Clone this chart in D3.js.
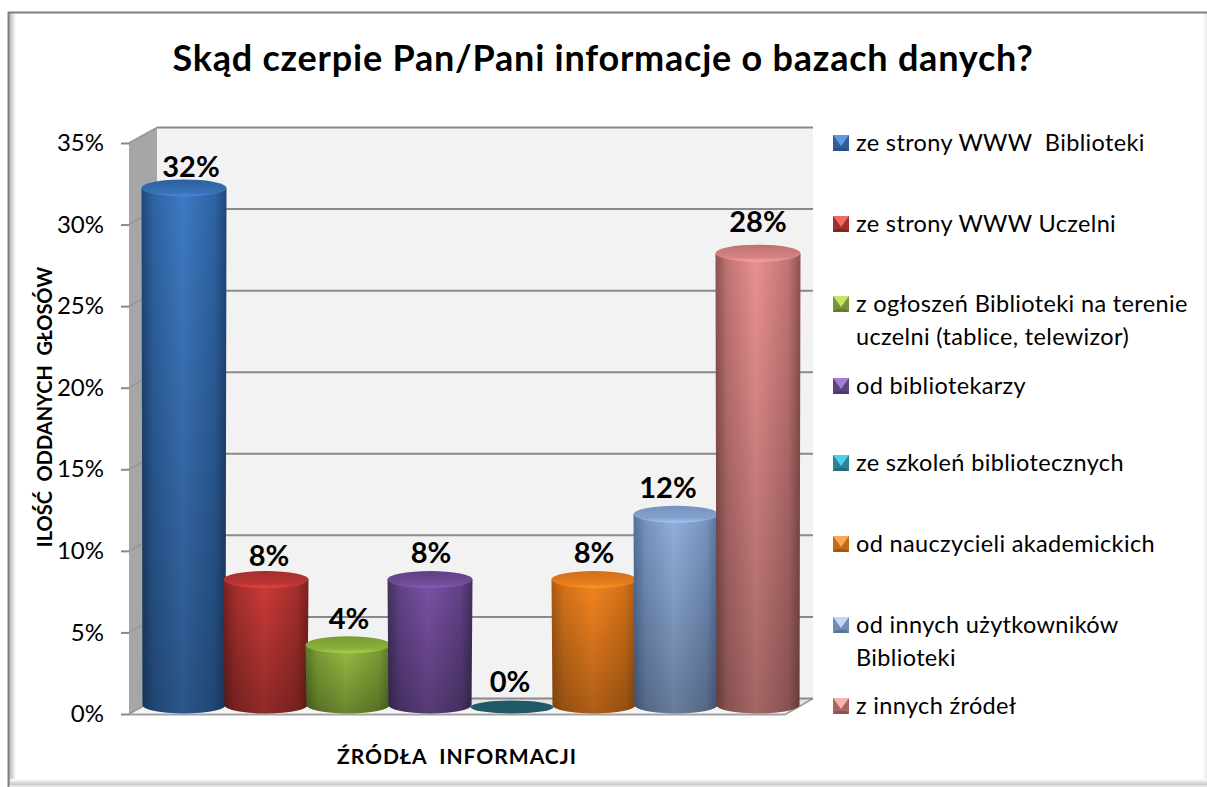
<!DOCTYPE html>
<html>
<head>
<meta charset="utf-8">
<style>
  html, body { margin: 0; padding: 0; background: #fff; }
  svg { display: block; }
  text { font-family: Lato, "Open Sans", sans-serif; fill: #000; white-space: pre; }
</style>
<script src="https://cdn.jsdelivr.net/npm/d3@7"></script>
</head>
<body>
<div id="chart"></div>
<script>
// Chart data
const sources = [
  "ze strony WWW  Biblioteki",
  "ze strony WWW Uczelni",
  "z ogłoszeń Biblioteki na terenie uczelni (tablice, telewizor)",
  "od bibliotekarzy",
  "ze szkoleń bibliotecznych",
  "od nauczycieli akademickich",
  "od innych użytkowników Biblioteki",
  "z innych źródeł"
];
const shares = [32, 8, 4, 8, 0, 8, 12, 28];
const yTicks = [0, 5, 10, 15, 20, 25, 30, 35];
const chartTitle = "Skąd czerpie Pan/Pani informacje o bazach danych?";
const yTitle = "ILOŚĆ  ODDANYCH  GŁOSÓW";
const xTitle = "ŹRÓDŁA  INFORMACJI";

// Bar colours: edge, centre
const edgeColors = ["#1d4778", "#7a2120", "#5a7a26", "#44305f", "#215968", "#a85a12", "#556f9c", "#8c5150"];
const centreColors = ["#3d7ac4", "#cc3b38", "#98be42", "#7b52a8", "#215968", "#f7851f", "#93b0dc", "#ea9190"];
// Legend swatches: top facet, side facets, bottom facet
const swatchTop = ["#5b9be0", "#f06a66", "#c4e468", "#a57fd6", "#52d0ea", "#ffa652", "#c2d8f6", "#f4b4b2"];
const swatchSide = ["#2f5f9a", "#9c302d", "#76943a", "#5f4383", "#2e8298", "#c26a1c", "#6f8bb6", "#a86462"];
const swatchBottom = ["#27507f", "#802725", "#617a30", "#4e376b", "#266b7d", "#a0581a", "#5c7396", "#8a5250"];

// Legend layout
const legendWrapped = [
  ["ze strony WWW  Biblioteki"],
  ["ze strony WWW Uczelni"],
  ["z ogłoszeń Biblioteki na terenie", "uczelni (tablice, telewizor)"],
  ["od bibliotekarzy"],
  ["ze szkoleń bibliotecznych"],
  ["od nauczycieli akademickich"],
  ["od innych użytkowników", "Biblioteki"],
  ["z innych źródeł"]
];
const legendRowY = [143, 224, 304, 386, 463, 544, 625, 706];
// Data label nudges from the default spot above a bar
const labelNudge = [[7, 5], [3, 2], [1, 0], [1, -1], [-2, -2], [0, -1], [-8, 0], [0, -5]];

const width = 1207;
const height = 787;
const depth = { x: 28, y: 15.5 };

const y = d3.scaleLinear().domain([0, 35]).range([714, 143]);
// Cylinder tops sit between the front and back planes
const yTop = d3.scaleLinear().domain([0, 35]).range([710, 139]);
const x = d3.scaleBand().domain(sources).range([143, 799]);
const frontLeft = 129;
const frontRight = 785;

const svg = d3.select("#chart").append("svg").attr("width", width).attr("height", height);
const defs = svg.append("defs");

function hGrad(id, stops) {
  const g = defs.append("linearGradient").attr("id", id);
  stops.forEach((s) => g.append("stop").attr("offset", s[0]).attr("stop-color", s[1]).attr("stop-opacity", s[2] === undefined ? 1 : s[2]));
  return g;
}
function vGrad(id, stops) {
  return hGrad(id, stops).attr("x1", 0).attr("x2", 0).attr("y1", 0).attr("y2", 1);
}

// Frame
svg.append("rect").attr("width", width).attr("height", height).attr("fill", "#fff");
hGrad("frameLeft", [[0, "#b4b4b4"], [1, "#fff"]]);
hGrad("frameRight", [[0, "#fff"], [1, "#e8e8e8"]]);
vGrad("frameBottom", [[0, "#fff"], [1, "#c4c4c4"]]);
svg.append("rect").attr("x", 9).attr("y", 13).attr("width", 7).attr("height", 774).attr("fill", "url(#frameLeft)");
svg.append("rect").attr("x", 1203).attr("y", 13).attr("width", 4).attr("height", 774).attr("fill", "url(#frameRight)");
svg.append("rect").attr("x", 10).attr("y", 779).attr("width", 1197).attr("height", 6).attr("fill", "url(#frameBottom)");
svg.append("rect").attr("x", 9).attr("y", 785).attr("width", 1198).attr("height", 2).attr("fill", "#e4e4e4");
svg.append("path").attr("d", "M8.5,787V12.5H1207").attr("fill", "none").attr("stroke", "#808080").attr("stroke-width", 2);

svg.append("text")
  .attr("x", 603).attr("y", 71)
  .attr("text-anchor", "middle")
  .attr("font-size", 36).attr("font-weight", 700)
  .attr("letter-spacing", 0.77)
  .text(chartTitle);

// Walls and floor
const plot = svg.append("g");
plot.append("polygon")
  .attr("points", [[frontLeft, y(35)], [frontLeft + depth.x, y(35) - depth.y], [frontLeft + depth.x, y(0) - depth.y], [frontLeft, y(0)]].join(" "))
  .attr("fill", "#a6a6a6");
plot.append("rect")
  .attr("x", frontLeft + depth.x).attr("y", y(35) - depth.y)
  .attr("width", frontRight - frontLeft).attr("height", y(0) - y(35))
  .attr("fill", "#f2f2f2");
vGrad("floorFill", [[0, "#e0e0e0"], [1, "#fafafa"]]);
plot.append("polygon")
  .attr("points", [[frontLeft, y(0)], [frontRight, y(0)], [frontRight + depth.x, y(0) - depth.y], [frontLeft + depth.x, y(0) - depth.y]].join(" "))
  .attr("fill", "url(#floorFill)");
plot.append("path")
  .attr("d", `M${frontLeft},${y(0) + 0.5}H${frontRight}L${frontRight + depth.x},${y(0) - depth.y}`)
  .attr("fill", "none").attr("stroke", "#a0a0a0").attr("stroke-width", 2);

// Gridlines on the back wall, and their slant on the side wall
plot.selectAll("line.grid").data(yTicks).join("line")
  .attr("class", "grid")
  .attr("x1", frontLeft + depth.x).attr("x2", frontRight + depth.x)
  .attr("y1", (d) => y(d) - depth.y).attr("y2", (d) => y(d) - depth.y)
  .attr("stroke", "#8a8a8a").attr("stroke-width", 2);
plot.selectAll("line.slant").data(yTicks).join("line")
  .attr("class", "slant")
  .attr("x1", frontLeft).attr("x2", frontLeft + depth.x)
  .attr("y1", (d) => y(d)).attr("y2", (d) => y(d) - depth.y)
  .attr("stroke", "#969696").attr("stroke-width", 1.5);

// Axis
const axis = svg.append("g")
  .attr("transform", `translate(${frontLeft},0)`)
  .call(d3.axisLeft(y).tickValues(yTicks).tickFormat((d) => d + "%").tickSize(8).tickPadding(17));
axis.select(".domain").remove();
axis.selectAll(".tick line").attr("stroke", "#8a8a8a").attr("stroke-width", 2);
axis.selectAll(".tick text").attr("font-size", 24).attr("font-family", "Lato").attr("fill", "#000");

// Cylinders
const bars = svg.append("g");
vGrad("barShade", [[0, "#000", 0], [1, "#000", 0.3]]);
shares.forEach((v, i) => {
  const name = sources[i];
  const cx = x(name) + x.bandwidth() / 2;
  const rx = 42.5;
  const ry = v === 0 ? 6.5 : 8.5;
  const base = yTop(0) - 5;
  const top = v === 0 ? base + 2 : yTop(v);
  const bottomRx = rx - 1;
  const g = bars.append("g");
  const mix = d3.interpolateRgb(edgeColors[i], centreColors[i]);

  if (v > 0) {
    hGrad("body" + i, [[0, edgeColors[i]], [0.14, mix(0.55)], [0.48, centreColors[i]], [0.86, mix(0.55)], [1, edgeColors[i]]]);
    const body = `M${cx - rx},${top}L${cx - bottomRx},${base}A${bottomRx},${ry} 0 0 0 ${cx + bottomRx},${base}L${cx + rx},${top}Z`;
    g.append("path").attr("d", body).attr("fill", `url(#body${i})`);
    g.append("path").attr("d", body).attr("fill", "url(#barShade)");
    vGrad("cap" + i, [[0, mix(0.5)], [0.75, mix(0.8)], [1, d3.color(centreColors[i]).brighter(0.35).formatHex()]]);
  } else {
    vGrad("cap" + i, [[0, centreColors[i]], [1, centreColors[i]]]);
  }
  g.append("ellipse")
    .attr("cx", cx).attr("cy", top)
    .attr("rx", rx - (v === 0 ? 1 : 0)).attr("ry", ry)
    .attr("fill", `url(#cap${i})`);
});

// Data labels
svg.append("g").selectAll("text").data(shares).join("text")
  .attr("x", (d, i) => x(sources[i]) + x.bandwidth() / 2 + labelNudge[i][0])
  .attr("y", (d, i) => y(d) - 30 + labelNudge[i][1])
  .attr("dy", "0.35em")
  .attr("text-anchor", "middle")
  .attr("font-size", 29).attr("font-weight", 700)
  .text((d) => d + "%");

// Axis titles
svg.append("text")
  .attr("transform", "translate(45,407) rotate(-90)")
  .attr("dy", "0.35em")
  .attr("text-anchor", "middle")
  .attr("font-size", 20).attr("font-weight", 700)
  .text(yTitle);
svg.append("text")
  .attr("x", 457).attr("y", 757)
  .attr("dy", "0.35em")
  .attr("text-anchor", "middle")
  .attr("font-size", 21).attr("font-weight", 700)
  .attr("letter-spacing", 1)
  .text(xTitle);

// Legend
const legend = svg.append("g");
const swatch = 16;
sources.forEach((name, i) => {
  const row = legend.append("g").attr("transform", `translate(833,${legendRowY[i] - swatch / 2})`);
  const c = swatch / 2;
  const inset = 3;
  // Facets of a bevelled square with a flat middle
  row.append("rect").attr("width", swatch).attr("height", swatch).attr("fill", swatchSide[i]);
  row.append("polygon").attr("points", [[0, 0], [swatch, 0], [c, c + inset]].join(" ")).attr("fill", swatchTop[i]);
  row.append("polygon").attr("points", [[0, swatch], [swatch, swatch], [swatch - inset, swatch - inset], [inset, swatch - inset]].join(" ")).attr("fill", swatchBottom[i]);
  legendWrapped[i].forEach((line, k) => {
    legend.append("text")
      .attr("x", 856).attr("y", legendRowY[i] + k * 33)
      .attr("dy", "0.35em")
      .attr("font-size", 23.5)
      .attr("letter-spacing", 0.35)
      .text(line);
  });
});
</script>
</body>
</html>
